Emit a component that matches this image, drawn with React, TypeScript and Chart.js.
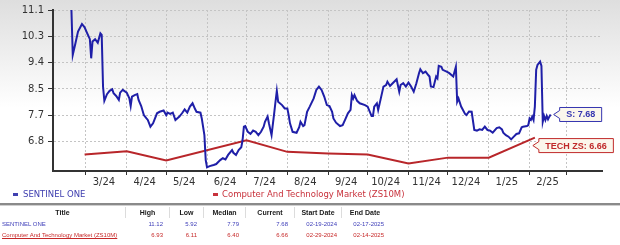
import { useEffect, useRef } from "react";
import { Chart, registerables } from "chart.js";

Chart.register(...registerables);

// ---- data ----
const startDate = Date.UTC(2024, 2, 1); // day 0 = 2024-03-01
const monthLabels = ["3/24", "4/24", "5/24", "6/24", "7/24", "8/24", "9/24", "10/24", "11/24", "12/24", "1/25", "2/25", ""];
const yTickValues = [6.787, 7.653, 8.52, 9.387, 10.253, 11.12];

// SentinelOne price, x = days since 2024-03-01
const sDays = [
  -11, -10, -8, -6, -3, -1, 1, 3, 4, 5, 7, 9, 11, 12, 13, 14, 16, 18, 20, 21, 23, 25, 26, 28, 31, 33, 34, 35, 37, 39,
  40, 42, 44, 46, 47, 49, 51, 54, 56, 59, 61, 62, 64, 66, 68, 71, 73, 75, 77, 79, 81, 83, 84, 87, 88, 90, 91, 92, 94, 97,
  99, 102, 104, 106, 108, 111, 112, 114, 116, 118, 119, 120, 121, 123, 125, 127, 129, 131, 133, 135, 136, 138, 139, 141, 143, 144, 145, 146, 149, 151,
  153, 154, 155, 157, 160, 162, 163, 165, 166, 168, 170, 173, 175, 177, 179, 181, 183, 185, 187, 188, 190, 193, 195, 197, 199, 201, 202, 203, 204, 206,
  208, 212, 214, 217, 218, 219, 221, 222, 224, 226, 228, 229, 231, 233, 236, 238, 239, 241, 243, 245, 247, 249, 251, 253, 254, 256, 258, 260, 261, 262,
  264, 266, 267, 268, 270, 271, 274, 276, 279, 281, 282, 283, 285, 288, 289, 291, 293, 295, 297, 299, 301, 303, 305, 307, 309, 312, 314, 316, 317, 319,
  321, 323, 325, 327, 329, 331, 332, 335, 336, 337, 338, 339, 340, 341, 342, 343, 345, 346, 347, 348, 349, 350, 351, 352, 353,
];
const sValues = [
  11.12, 9.64, 10.02, 10.41, 10.66, 10.55, 10.35, 10.16, 9.53, 10.08, 10.16, 10.04, 10.35, 10.3, 8.6, 8.13, 8.35, 8.46, 8.51, 8.38, 8.29, 8.16, 8.4, 8.49, 8.4, 8.21, 7.96, 8.27, 8.32, 8.35,
  8.16, 7.96, 7.66, 7.55, 7.5, 7.28, 7.39, 7.72, 7.77, 7.81, 7.66, 7.74, 7.7, 7.74, 7.5, 7.61, 7.72, 7.85, 7.74, 7.94, 8.05, 7.85, 7.77, 7.74, 7.55, 7.0, 6.18, 5.94, 5.98, 6.02,
  6.05, 6.18, 6.24, 6.2, 6.35, 6.51, 6.42, 6.35, 6.51, 6.6, 6.84, 7.28, 7.3, 7.11, 7.04, 7.15, 7.11, 7.0, 7.11, 7.28, 7.44, 7.61, 7.39, 7.0, 7.72, 8.1, 8.46, 8.1, 7.99, 7.88,
  7.88, 7.66, 7.39, 7.11, 7.08, 7.26, 7.44, 7.3, 7.33, 7.77, 7.94, 8.21, 8.49, 8.6, 8.49, 8.27, 7.99, 7.96, 7.77, 7.55, 7.41, 7.3, 7.33, 7.52, 7.72, 7.83, 8.32, 8.21, 8.32, 8.13,
  8.05, 7.99, 7.94, 7.63, 7.63, 7.94, 8.05, 7.83, 8.21, 8.6, 8.65, 8.76, 8.62, 8.71, 8.84, 8.43, 8.65, 8.71, 8.6, 8.73, 8.6, 8.43, 8.71, 9.04, 9.17, 9.04, 9.09, 8.98, 8.93, 8.6,
  8.58, 8.93, 8.87, 9.28, 9.25, 9.15, 9.09, 9.04, 8.93, 9.25, 8.1, 8.21, 7.94, 7.7, 7.66, 7.78, 7.77, 7.17, 7.15, 7.19, 7.17, 7.28, 7.17, 7.15, 7.08, 7.23, 7.26, 7.19, 7.08, 7.0,
  6.95, 6.86, 6.95, 7.04, 7.06, 7.26, 7.28, 7.3, 7.33, 7.55, 7.5, 7.61, 7.5, 7.94, 9.15, 9.31, 9.42, 9.28, 7.44, 7.63, 7.5, 7.63, 7.52, 7.61, 7.68,
];

// Computer and Technology market (ZS10M), x = days since 2024-03-01
const zsDays = [-1, 31, 61, 122, 153, 184, 214, 245, 275, 306, 341];
const zsValues = [6.36, 6.47, 6.17, 6.83, 6.45, 6.4, 6.36, 6.07, 6.26, 6.26, 6.92];

const sTag = "S: 7.68";
const zsTag = "TECH ZS: 6.66";
const legendS = "SENTINEL ONE";
const legendZS = "Computer And Technology Market (ZS10M)";

const tableHeaders = ["Title", "High", "Low", "Median", "Current", "Start Date", "End Date"];
const sStats = ["SENTINEL ONE", "11.12", "5.92", "7.79", "7.68", "02-19-2024", "02-17-2025"];
const zsStats = ["Computer And Technology Market (ZS10M)", "6.93", "6.11", "6.40", "6.66", "02-29-2024", "02-14-2025"];

// ---- styles ----
const BLUE = "#1f1fa8";
const RED = "#b8262a";
const colBounds = [
  [0, 125],
  [125, 169],
  [169, 203],
  [203, 245],
  [245, 294],
  [294, 341],
  [341, 388],
];

const monthDays = monthLabels.map((_, i) => (Date.UTC(2024, 2 + i, 1) - startDate) / 86400000);

const bgPlugin = {
  id: "bg",
  beforeDraw(chart: any) {
    const { ctx, width, height } = chart;
    ctx.save();
    const g = ctx.createLinearGradient(0, 0, 0, height);
    g.addColorStop(0, "#dedede");
    g.addColorStop(0.44, "#ffffff");
    g.addColorStop(1, "#ffffff");
    ctx.fillStyle = g;
    ctx.fillRect(0, 0, width, height);
    ctx.restore();
  },
};

const tagPlugin = {
  id: "tags",
  afterDatasetsDraw(chart: any) {
    const ctx = chart.ctx;
    const specs = [
      { ds: 0, text: sTag, color: "#3535b0", dx: 3, dy: 0 },
      { ds: 1, text: zsTag, color: "#c02a2a", dx: -2, dy: 8 },
    ];
    ctx.save();
    ctx.font = 'bold 9px "Liberation Sans", Arial, sans-serif';
    for (const s of specs) {
      const meta = chart.getDatasetMeta(s.ds);
      const pt = meta.data[meta.data.length - 1];
      const tipX = pt.x + s.dx;
      const tipY = pt.y + s.dy;
      const w = ctx.measureText(s.text).width + 13;
      const h = 14;
      const bx = tipX + 6;
      const by = tipY - h / 2;
      ctx.beginPath();
      ctx.moveTo(tipX, tipY);
      ctx.lineTo(bx, by + 3);
      ctx.lineTo(bx, by);
      ctx.lineTo(bx + w, by);
      ctx.lineTo(bx + w, by + h);
      ctx.lineTo(bx, by + h);
      ctx.lineTo(bx, by + h - 3);
      ctx.closePath();
      ctx.fillStyle = "#fbf7ec";
      ctx.fill();
      ctx.lineWidth = 1;
      ctx.strokeStyle = s.color;
      ctx.stroke();
      ctx.fillStyle = s.color;
      ctx.textBaseline = "middle";
      ctx.textAlign = "left";
      ctx.fillText(s.text, bx + 6.5, tipY + 0.5);
    }
    ctx.restore();
  },
};

export default function App() {
  const ref = useRef<HTMLCanvasElement | null>(null);

  useEffect(() => {
    document.body.style.margin = "0";
    if (!ref.current) return;
    const chart = new Chart(ref.current, {
      type: "line",
      data: {
        datasets: [
          {
            data: sDays.map((d, i) => ({ x: d, y: sValues[i] })),
            borderColor: BLUE,
            borderWidth: 2,
            pointRadius: 0,
            tension: 0,
          },
          {
            data: zsDays.map((d, i) => ({ x: d, y: zsValues[i] })),
            borderColor: RED,
            borderWidth: 2,
            pointRadius: 0,
            tension: 0,
          },
        ],
      },
      options: {
        responsive: false,
        animation: false,
        maintainAspectRatio: false,
        layout: { padding: { left: 0, right: 18, top: 10, bottom: 0 } },
        plugins: { legend: { display: false }, tooltip: { enabled: false } },
        scales: {
          x: {
            type: "linear",
            min: -25,
            max: 392,
            afterBuildTicks: (axis: any) => {
              axis.ticks = monthDays.map((v) => ({ value: v }));
            },
            afterFit: (axis: any) => {
              axis.height = 74;
            },
            ticks: {
              autoSkip: false,
              maxRotation: 0,
              minRotation: 0,
              labelOffset: 18,
              padding: 1,
              color: "#333",
              font: { family: '"DejaVu Sans", sans-serif', size: 10 },
              callback: (_v: any, i: number) => monthLabels[i],
            },
            grid: {
              color: "#c4c4c4",
              lineWidth: 1,
              tickLength: 4,
              tickColor: "#333",
              tickWidth: 1,
              tickBorderDash: [],
            },
            border: { display: true, color: "#333", width: 2, dash: [2, 2] },
          },
          y: {
            type: "linear",
            min: 5.82,
            max: 11.12,
            afterBuildTicks: (axis: any) => {
              axis.ticks = yTickValues.map((v) => ({ value: v }));
            },
            afterFit: (axis: any) => {
              axis.width = 53;
            },
            ticks: {
              padding: 4,
              color: "#333",
              font: { family: '"DejaVu Sans", sans-serif', size: 10 },
              callback: (v: any) => Number(v).toFixed(1),
            },
            grid: {
              color: "#c4c4c4",
              lineWidth: 1,
              tickLength: 5,
              tickColor: "#333",
              tickWidth: 1,
              tickBorderDash: [],
            },
            border: { display: true, color: "#333", width: 2, dash: [2, 2] },
          },
        },
      } as any,
      plugins: [bgPlugin, tagPlugin],
    });
    return () => chart.destroy();
  }, []);

  const legendFont = { fontFamily: '"DejaVu Sans", sans-serif', fontSize: 8.5, lineHeight: "11px" };
  const tableFont = '"Liberation Sans", Arial, sans-serif';

  const renderRow = (vals: string[], top: number, color: string, underline: boolean) =>
    vals.map((v, i) => {
      const [l, r] = colBounds[i];
      return (
        <div
          key={`${top}-${i}`}
          style={{
            position: "absolute",
            left: l,
            top,
            width: r - l,
            height: 10,
            lineHeight: "10px",
            fontFamily: tableFont,
            fontSize: 6,
            color,
            whiteSpace: "nowrap",
            textAlign: i === 0 ? "left" : "right",
            paddingLeft: i === 0 ? 2 : 0,
            paddingRight: i === 0 ? 0 : i >= 5 ? 4 : 6,
            boxSizing: "border-box",
          }}
        >
          <span style={{ textDecoration: underline && i === 0 ? "underline" : "none" }}>{v}</span>
        </div>
      );
    });

  return (
    <div style={{ position: "relative", width: 620, height: 245, overflow: "hidden", background: "#fff" }}>
      <canvas ref={ref} width={620} height={245} style={{ position: "absolute", left: 0, top: 0 }} />
      {/* legend */}
      <div style={{ position: "absolute", left: 13, top: 193, width: 5, height: 2.5, background: "#4040b0" }} />
      <div style={{ position: "absolute", left: 23, top: 188.5, color: "#4040b0", whiteSpace: "nowrap", ...legendFont }}>
        {legendS}
      </div>
      <div style={{ position: "absolute", left: 213, top: 193, width: 5, height: 2.5, background: "#c8323c" }} />
      <div style={{ position: "absolute", left: 222, top: 188.5, color: "#c8323c", whiteSpace: "nowrap", ...legendFont }}>
        {legendZS}
      </div>
      {/* separator */}
      <div style={{ position: "absolute", left: 0, top: 203, width: 620, height: 2, background: "#8a8a8a" }} />
      <div style={{ position: "absolute", left: 0, top: 205, width: 620, height: 1, background: "#cfcfcf" }} />
      {/* header */}
      {tableHeaders.map((h, i) => {
        const [l, r] = colBounds[i];
        return (
          <div
            key={h}
            style={{
              position: "absolute",
              left: l,
              top: 207,
              width: r - l,
              height: 11,
              lineHeight: "11px",
              textAlign: "center",
              fontFamily: tableFont,
              fontWeight: "bold",
              fontSize: 7,
              color: "#1a1a1a",
              borderLeft: i === 0 ? "none" : "1px solid #dcdcdc",
              boxSizing: "border-box",
              whiteSpace: "nowrap",
            }}
          >
            {h}
          </div>
        );
      })}
      {renderRow(sStats, 219, "#3d3db8", false)}
      {renderRow(zsStats, 230, "#c62828", true)}
    </div>
  );
}
